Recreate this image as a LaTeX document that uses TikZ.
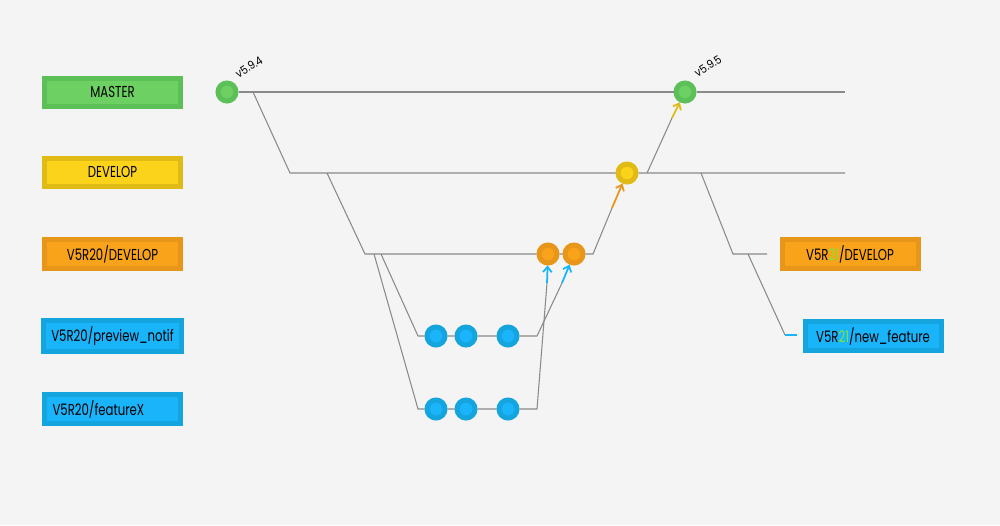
\documentclass[tikz,border=0pt]{standalone}
\usepackage{fontspec}
\setmainfont[FakeStretch=0.74]{Poppins}
\newfontfamily\tagfont[FakeStretch=0.9]{Poppins}
\usetikzlibrary{arrows.meta}

\definecolor{bg}{HTML}{F4F4F4}
\definecolor{gitline}{HTML}{8A8A8A}
\definecolor{greenD}{HTML}{5CBF57}
\definecolor{greenL}{HTML}{6DD063}
\definecolor{yellowD}{HTML}{E0BB15}
\definecolor{yellowL}{HTML}{FBD31A}
\definecolor{orangeD}{HTML}{E8961A}
\definecolor{orangeL}{HTML}{F9A31B}
\definecolor{blueD}{HTML}{14A5DF}
\definecolor{blueL}{HTML}{1AB4FA}
\definecolor{verGreen}{HTML}{7DE83A}

\begin{document}
\begin{tikzpicture}[x=0.02cm,y=-0.02cm,
    branch/.style={draw=#1D, fill=#1L, line width=0.1cm, minimum width=2.72cm,
      minimum height=0.56cm, inner xsep=0.16cm, font=\fontsize{9}{10}\selectfont},
    commit/.style={circle, draw=#1D, fill=#1L, line width=0.1cm,
      minimum size=0.36cm, inner sep=0pt},
    link/.style={draw=gitline, line width=0.6pt},
    merge/.style={-{Straight Barb[length=3pt,width=5pt]}, line width=1pt, draw=#1},
    tag/.style={font=\tagfont\fontsize{6.5}{7}\selectfont, rotate=32}]
    \fill[bg] (0,0) rectangle (1000,525);
    % branch labels
    \node[branch=green] (master) at (112.5,92) {MASTER};
    \node[branch=yellow] (develop) at (112.5,172) {DEVELOP};
    \node[branch=orange] (r20dev) at (112.5,254) {V5R20/DEVELOP};
    \node[branch=blue] (notif) at (112.5,336) {V5R20/preview\_notif};
    \node[branch=blue, text width=2.4cm, align=left] (featx) at (112.5,409) {V5R20/featureX};
    \node[branch=orange] (r21dev) at (850,254) {V5R\textcolor{verGreen}{21}/DEVELOP};
    \node[branch=blue] (r21feat) at (873,336) {V5R\textcolor{verGreen}{21}/new\_feature};
    % commits
    \node[commit=green] (c594) at (227,92) {};
    \node[commit=green] (c595) at (685,92) {};
    \node[commit=yellow] (cdev) at (627,173) {};
    \node[commit=orange] (o1) at (548,254) {};
    \node[commit=orange] (o2) at (574,254) {};
    \foreach \x [count=\i] in {436,466,508} {
      \node[commit=blue] (n\i) at (\x,336) {};
      \node[commit=blue] (f\i) at (\x,409) {};
    }
    \node[tag] (tag594) at (249,67) {v5.9.4};
    \node[tag] (tag595) at (708,66) {v5.9.5};
    % points on the lines
    \coordinate (mFork) at (253,92);
    \coordinate (mEnd) at (845,92);
    \coordinate (dStart) at (290,173);
    \coordinate (dFork) at (327,173);
    \coordinate (dOut) at (647,173);
    \coordinate (dFork2) at (701,173);
    \coordinate (dEnd) at (845,173);
    \coordinate (rStart) at (365,254);
    \coordinate (rFork1) at (374,254);
    \coordinate (rFork2) at (381,254);
    \coordinate (rEnd) at (593,254);
    \coordinate (nStart) at (418,336);
    \coordinate (nEnd) at (537,336);
    \coordinate (fStart) at (418,409);
    \coordinate (fEnd) at (537,409);
    \coordinate (qStart) at (733,254);
    \coordinate (qFork) at (748,254);
    \coordinate (qEnd) at (767,254);
    \coordinate (wStart) at (785,335);
    \coordinate (wEnd) at (797,335);
    \coordinate (aDev) at (612,208);
    \coordinate (aMaster) at (672,118);
    \coordinate (aNotif) at (562,283);
    \coordinate (aFeat) at (547,283);
    % main lines
    \draw[link] (c594) -- (c595) -- (mEnd);
    \draw[link] (mFork) -- (dStart) -- (cdev) -- (dEnd);
    \draw[link] (dFork) -- (rStart) -- (o1) -- (o2) -- (rEnd) -- (aDev);
    \draw[link] (dOut) -- (aMaster);
    \draw[link] (rFork2) -- (nStart) -- (n1) -- (n2) -- (n3) -- (nEnd) -- (aNotif);
    \draw[link] (rFork1) -- (fStart) -- (f1) -- (f2) -- (f3) -- (fEnd) -- (aFeat);
    \draw[link] (dFork2) -- (qStart) -- (qEnd);
    \draw[link] (qFork) -- (wStart);
    \draw[blueL, line width=1pt] (wStart) -- (wEnd);
    % merges
    \draw[merge=orangeD] (aDev) -- (cdev);
    \draw[merge=yellowD] (aMaster) -- (c595);
    \draw[merge=blueL] (aNotif) -- (o2);
    \draw[merge=blueL] (aFeat) -- (o1);
\end{tikzpicture}
\end{document}
